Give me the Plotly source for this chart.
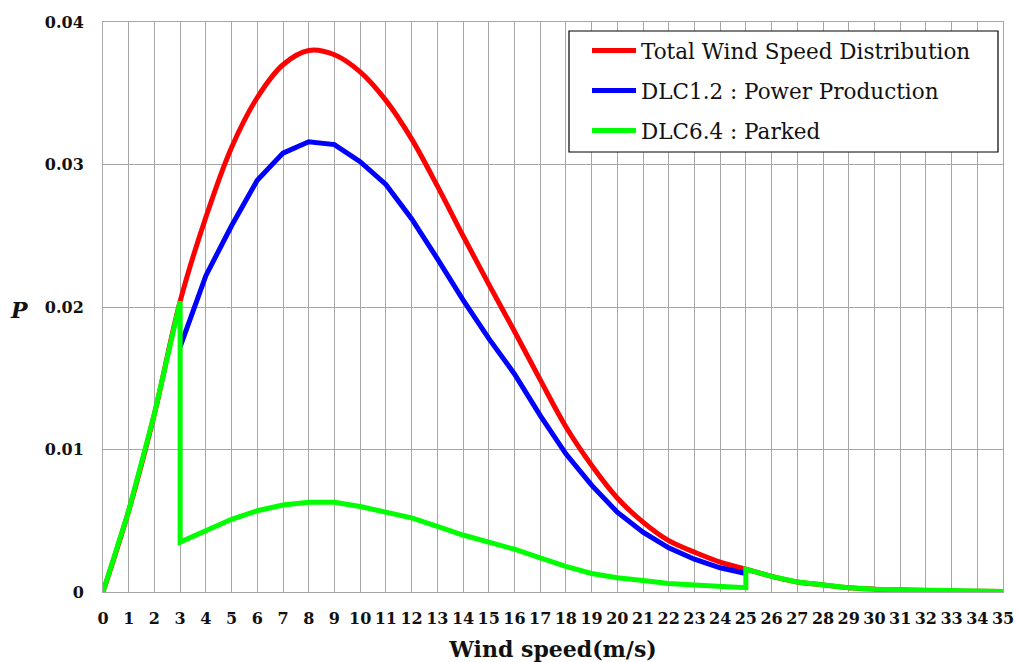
import plotly.graph_objects as go

# ---- data ----
wind_speed = list(range(0, 36))
total_dist = [0, 0.0057, 0.0125, 0.0204, 0.0263, 0.0312, 0.0347, 0.0370, 0.0380, 0.0377,
              0.0365, 0.0345, 0.0318, 0.0285, 0.0250, 0.0216, 0.0183, 0.0149, 0.0116, 0.0089,
              0.0066, 0.0049, 0.0036, 0.0028, 0.0021, 0.0016, 0.0011, 0.0007, 0.0005, 0.0003,
              0.0002, 0.00015, 0.0001, 0.00007, 0.00005, 0.00003]

dlc12_speed = list(range(3, 26))
dlc12_prob = [0.0172, 0.0222, 0.0257, 0.0289, 0.0308, 0.0316, 0.0314, 0.0302, 0.0286, 0.0262,
              0.0234, 0.0205, 0.0178, 0.0153, 0.0124, 0.0097, 0.0075, 0.0056, 0.0042, 0.0031,
              0.0023, 0.0017, 0.0013]

dlc64_speed = [0, 1, 2, 3, 3, 4, 5, 6, 7, 8, 9, 10, 11, 12, 13, 14, 15, 16, 17, 18, 19, 20,
               21, 22, 23, 24, 25, 25, 26, 27, 28, 29, 30, 31, 32, 33, 34, 35]
dlc64_prob = [0, 0.0057, 0.0125, 0.0204, 0.0035, 0.0043, 0.0051, 0.0057, 0.0061, 0.0063,
              0.0063, 0.0060, 0.0056, 0.0052, 0.0046, 0.0040, 0.0035, 0.0030, 0.0024, 0.0018,
              0.0013, 0.0010, 0.0008, 0.0006, 0.0005, 0.0004, 0.0003, 0.0016, 0.0011, 0.0007,
              0.0005, 0.0003, 0.0002, 0.00015, 0.0001, 0.00007, 0.00005, 0.00003]

names = ["Total Wind Speed Distribution", "DLC1.2 : Power Production", "DLC6.4 : Parked"]
colors = ["#FF0000", "#0000FF", "#00FF00"]

fig = go.Figure()
fig.add_trace(go.Scatter(x=wind_speed, y=total_dist, mode="lines", name=names[0],
                         line=dict(color=colors[0], width=5, shape="spline", smoothing=1.0),
                         legendgroup="a"))
fig.add_trace(go.Scatter(x=dlc12_speed, y=dlc12_prob, mode="lines", name=names[1],
                         line=dict(color=colors[1], width=5), legendgroup="b"))
fig.add_trace(go.Scatter(x=dlc64_speed, y=dlc64_prob, mode="lines", name=names[2],
                         line=dict(color=colors[2], width=5), legendgroup="c"))

grid = "#A6A6A6"
tickfont = dict(family="DejaVu Serif", size=16, color="#111111", weight="bold")

L, R, T, B = 103, 16, 22, 70
PW, PH = 1019 - L - R, 662 - T - B


def px_x(p):
    return (p - L) / PW


def px_y(p):
    return (662 - B - p) / PH


fig.update_layout(
    width=1019, height=662,
    margin=dict(l=L, r=R, t=T, b=B),
    paper_bgcolor="white", plot_bgcolor="white",
    showlegend=True,
    legend=dict(
        x=px_x(587), y=px_y(30), xanchor="left", yanchor="top",
        bgcolor="rgba(0,0,0,0)", borderwidth=0,
        font=dict(family="DejaVu Serif", size=21.5, color="#111111"),
        tracegroupgap=9, traceorder="grouped", itemwidth=44,
    ),
    shapes=[dict(type="rect", xref="paper", yref="paper",
                 x0=px_x(569), x1=px_x(998), y0=px_y(152), y1=px_y(31),
                 fillcolor="white", line=dict(color="black", width=1.2), layer="above")],
    xaxis=dict(
        range=[0, 35], tick0=0, dtick=1, showgrid=True, gridcolor=grid, gridwidth=1,
        showline=True, linecolor=grid, linewidth=1, mirror=True, zeroline=False,
        tickfont=tickfont, ticklabelstandoff=12, automargin=False,
        title=dict(text="Wind speed(m/s)", font=dict(family="DejaVu Serif", size=22,
                                                   color="#111111", weight="bold"),
                   standoff=14),
    ),
    yaxis=dict(
        range=[0, 0.04], tick0=0, dtick=0.01, showgrid=True, gridcolor=grid, gridwidth=1,
        showline=True, linecolor=grid, linewidth=1, mirror=True, zeroline=False,
        tickfont=tickfont, ticklabelstandoff=15, automargin=False,
    ),
    annotations=[dict(text="<b><i>P</i></b>", xref="paper", yref="paper",
                      x=px_x(19.5), y=px_y(310), xanchor="center", yanchor="middle",
                      showarrow=False,
                      font=dict(family="DejaVu Serif", size=22, color="#111111"))],
)

fig.write_html("out.html")
